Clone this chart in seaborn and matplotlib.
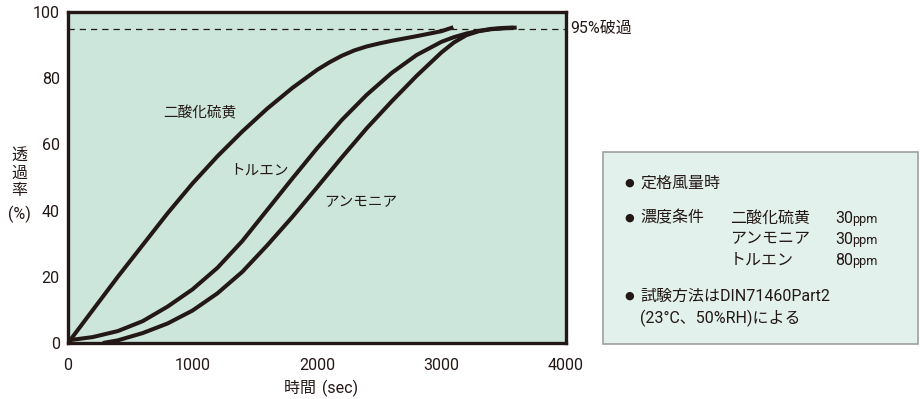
import matplotlib
matplotlib.use("Agg")
import matplotlib.pyplot as plt
import seaborn as sns
import pandas as pd
from matplotlib.patches import Rectangle

# ---- data ----
so2_t = [0, 200, 400, 600, 800, 1000, 1200, 1400, 1600, 1800, 2000, 2100, 2200, 2300,
         2400, 2500, 2600, 2800, 3000, 3095]
so2_v = [0, 10.0, 20.0, 29.6, 39.2, 48.2, 56.4, 63.9, 70.8, 77.0, 82.5, 84.8, 86.8, 88.4,
         89.6, 90.5, 91.3, 92.7, 94.2, 95.4]

tol_t = [0, 200, 400, 600, 800, 1000, 1200, 1400, 1600, 1800, 2000, 2200, 2400, 2600,
         2800, 3000, 3100, 3200, 3300, 3400, 3500, 3577]
tol_v = [0.8, 1.8, 3.6, 6.6, 11.0, 16.2, 22.7, 30.8, 40.2, 49.6, 58.8, 67.4, 75.0, 81.6,
         87.0, 91.0, 92.4, 93.5, 94.3, 94.9, 95.2, 95.3]

nh3_t = [280, 400, 600, 800, 1000, 1200, 1400, 1600, 1800, 2000, 2200, 2400, 2600, 2800,
         3000, 3100, 3200, 3300, 3400, 3604]
nh3_v = [0, 0.8, 3.0, 5.9, 9.8, 15.0, 21.5, 29.5, 38.0, 47.0, 56.1, 64.9, 73.0, 80.7,
         87.8, 90.8, 93.0, 94.2, 94.8, 95.3]

series_names = ["二酸化硫黄", "トルエン", "アンモニア"]
x_ticks = [0, 1000, 2000, 3000, 4000]
y_ticks = [0, 20, 40, 60, 80, 100]
breakthrough = 95

gases = ["二酸化硫黄", "アンモニア", "トルエン"]
concs = ["30", "30", "80"]

df = pd.concat([
    pd.DataFrame({"t": so2_t, "v": so2_v, "gas": series_names[0]}),
    pd.DataFrame({"t": tol_t, "v": tol_v, "gas": series_names[1]}),
    pd.DataFrame({"t": nh3_t, "v": nh3_v, "gas": series_names[2]}),
], ignore_index=True)

sns.set_theme(style="white")
latin = ["Roboto", "Noto Sans CJK JP", "DejaVu Sans"]
jp = ["Noto Sans CJK JP", "DejaVu Sans"]
plt.rcParams["font.family"] = latin

ink = "#231815"
fig = plt.figure(figsize=(9.22, 3.99), dpi=100)
ax = fig.add_axes([68 / 922, 1 - 343 / 399, (566 - 68) / 922, (343 - 12) / 399])
ax.set_facecolor("#cce6dc")

sns.lineplot(data=df, x="t", y="v", hue="gas", palette={n: ink for n in series_names},
             sort=False, estimator=None, legend=False, linewidth=2.9, ax=ax,
             solid_capstyle="butt", solid_joinstyle="round")

ax.axhline(breakthrough, color=ink, lw=0.9, ls=(0, (5, 4)), zorder=1)

ax.set_xlim(0, 4000)
ax.set_ylim(0, 100)
ax.set_xticks(x_ticks)
ax.set_yticks(y_ticks)
ax.set_xticks([500, 1500, 2500, 3500], minor=True)
ax.set_yticks([10, 30, 50, 70, 90], minor=True)
ax.tick_params(axis="both", which="both", direction="in", color=ink, width=1.1,
               labelsize=11.5, labelcolor=ink)
ax.tick_params(axis="x", which="both", length=7.5, pad=11, top=False)
ax.tick_params(axis="y", which="both", length=6, pad=6, right=False)
for s in ax.spines.values():
    s.set_linewidth(2.4)
    s.set_color(ink)
ax.set_xlabel("")
ax.set_ylabel("")

ax.text(1060, 69.5, "二酸化硫黄", fontsize=10.5, family=jp, color=ink, ha="center", va="center")
ax.text(1540, 52, "トルエン", fontsize=10.5, family=jp, color=ink, ha="center", va="center")
ax.text(2350, 42.5, "アンモニア", fontsize=10.5, family=jp, color=ink, ha="center", va="center")
ax.annotate("95%破過", xy=(4000, breakthrough), xytext=(3, 0), textcoords="offset points",
            fontsize=11.5, family=latin, color=ink,
            ha="left", va="center", annotation_clip=False)

# axis titles
fig.text(320 / 922, 1 - 388 / 399, "時間 ", fontsize=11.5, family=jp, color=ink,
         ha="right", va="center")
fig.text(322 / 922, 1 - 388 / 399, "(sec)", fontsize=11.5, family=latin, color=ink,
         ha="left", va="center")
for i, ch in enumerate(["透", "過", "率"]):
    fig.text(19 / 922, 1 - (155 + 18 * i) / 399, ch, fontsize=11.5, family=jp, color=ink,
             ha="center", va="center")
fig.text(19 / 922, 1 - 214 / 399, "(%)", fontsize=11.5, family=latin, color=ink,
         ha="center", va="center")

# condition box
fig.patches.append(Rectangle((603 / 922, 1 - 344 / 399), 315 / 922, 192 / 399,
                             transform=fig.transFigure, facecolor="#e2f1ec",
                             edgecolor="#a0a0a0", linewidth=1.2))

def px(x, y):
    return x / 922, 1 - y / 399

fs = 11.5
for y in [183, 218, 296]:
    fig.text(*px(629, y), "●", fontsize=8, family=["DejaVu Sans"], color=ink, ha="center", va="center")
fig.text(*px(640, 183), "定格風量時", fontsize=fs, family=jp, color=ink, va="center")
fig.text(*px(640, 218), "濃度条件", fontsize=fs, family=jp, color=ink, va="center")
for i, (g, c) in enumerate(zip(gases, concs)):
    yy = 218 + 21 * i
    fig.text(*px(730, yy), g, fontsize=fs, family=jp, color=ink, va="center")
    fig.text(*px(835, yy + 5), c, fontsize=fs, family=latin, color=ink, va="baseline")
    fig.text(*px(852, yy + 5), "ppm", fontsize=9, family=latin, color=ink, va="baseline")
fig.text(*px(640, 296), "試験方法はDIN71460Part2", fontsize=fs, family=latin, color=ink, va="center")
fig.text(*px(640, 318), "(23°C、50%RH)による", fontsize=fs, family=latin, color=ink, va="center")

fig.savefig("out.png", dpi=100)
